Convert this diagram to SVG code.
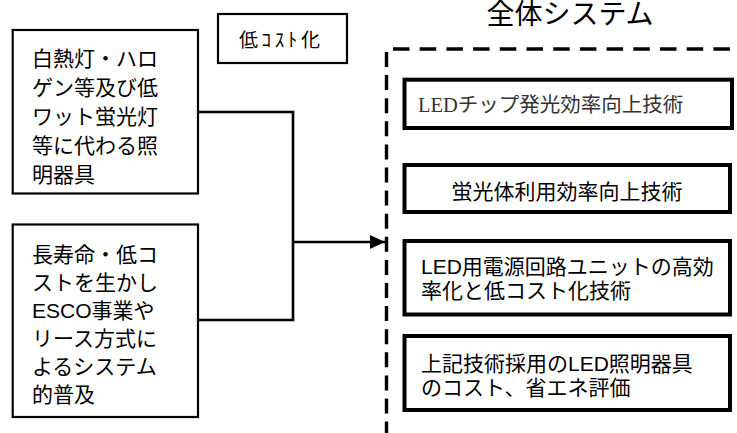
<svg xmlns="http://www.w3.org/2000/svg" width="737" height="433" viewBox="0 0 737 433">
<defs>
<style>
.t{font-family:'Liberation Sans','Noto Sans CJK JP',sans-serif;fill:#000;}
.s{font-family:'Liberation Serif','Noto Sans CJK JP',serif;fill:#333;}
.b1{fill:#fff;stroke:#000;stroke-width:2.2;}
.b2{fill:#fff;stroke:#000;stroke-width:4;}
.c{fill:none;stroke:#000;stroke-width:2.6;}
.d{fill:none;stroke:#000;stroke-width:3.4;}
</style>
<marker id="ah" viewBox="0 0 15 14" refX="15" refY="7" markerWidth="15" markerHeight="14" markerUnits="userSpaceOnUse" orient="auto">
<path d="M0,0 L15,7 L0,14 Z" fill="#000"/>
</marker>
</defs>
<rect width="737" height="433" fill="#fff"/>
<g id="title">
<text class="t" x="570" y="24" font-size="28" text-anchor="middle">全体システム</text>
</g>
<g id="container">
<path class="d" d="M393,49 H737" stroke-dasharray="16.5 10.2"/>
<path class="d" d="M386.5,52 V433" stroke-dasharray="15 8.1"/>
</g>
<g id="connectors">
<path class="c" d="M198,112 H293 V320 H198"/>
<path class="c" d="M293,242 H385" marker-end="url(#ah)"/>
</g>
<g id="node-lowcost">
<rect class="b1" x="218" y="14" width="129" height="49"/>
<text class="t" x="239" y="47" font-size="19" textLength="81" lengthAdjust="spacing">低ｺｽﾄ化</text>
</g>
<g id="node-replace">
<rect class="b1" x="12.7" y="30" width="185.3" height="163.5"/>
<text class="t" font-size="21" x="32">
<tspan x="32" y="66">白熱灯・ハロ</tspan>
<tspan x="32" y="95">ゲン等及び低</tspan>
<tspan x="32" y="124">ワット蛍光灯</tspan>
<tspan x="32" y="153">等に代わる照</tspan>
<tspan x="32" y="182">明器具</tspan>
</text>
</g>
<g id="node-esco">
<rect class="b1" x="12.7" y="224.5" width="185.3" height="192.5"/>
<text class="t" font-size="21" x="32">
<tspan x="32" y="262">長寿命・低コ</tspan>
<tspan x="32" y="290">ストを生かし</tspan>
<tspan x="32" y="318">ESCO事業や</tspan>
<tspan x="32" y="346">リース方式に</tspan>
<tspan x="32" y="374">よるシステム</tspan>
<tspan x="32" y="402">的普及</tspan>
</text>
</g>
<g id="node-chip">
<rect class="b2" x="404.5" y="79.7" width="327.5" height="48.3"/>
<text class="s" x="418" y="112" font-size="20.5">LEDチップ発光効率向上技術</text>
</g>
<g id="node-phosphor">
<rect class="b2" x="404.5" y="165" width="325.5" height="47"/>
<text class="t" x="567" y="199" font-size="21" text-anchor="middle">蛍光体利用効率向上技術</text>
</g>
<g id="node-power">
<rect class="b2" x="404.5" y="241" width="325.5" height="73.5"/>
<text class="t" font-size="21">
<tspan x="421" y="274">LED用電源回路ユニットの高効</tspan>
<tspan x="421" y="297.5">率化と低コスト化技術</tspan>
</text>
</g>
<g id="node-eval">
<rect class="b2" x="404.5" y="336" width="325.5" height="74"/>
<text class="t" font-size="21">
<tspan x="421" y="371">上記技術採用のLED照明器具</tspan>
<tspan x="421" y="395">のコスト、省エネ評価</tspan>
</text>
</g>
</svg>
